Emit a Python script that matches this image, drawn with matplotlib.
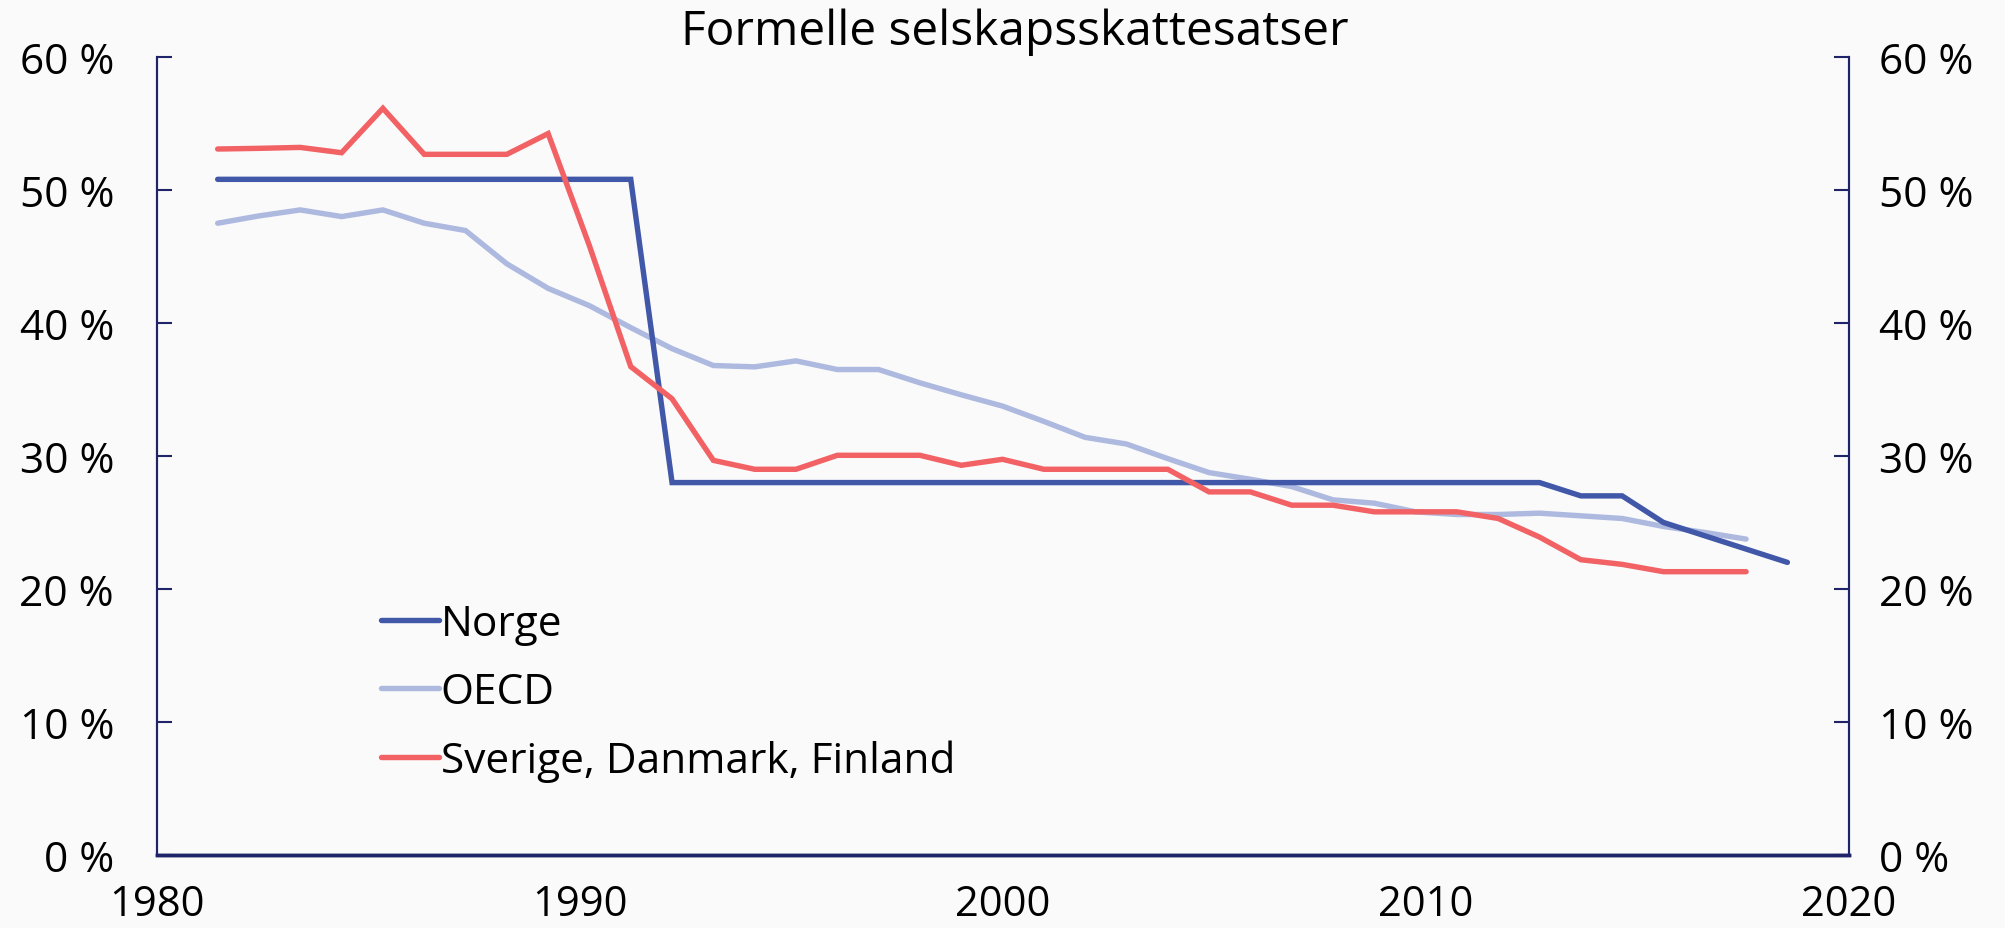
import matplotlib
matplotlib.use("Agg")
import matplotlib.pyplot as plt
from matplotlib.ticker import FixedLocator, FuncFormatter

plt.rcParams['font.family'] = ['Open Sans', 'DejaVu Sans']

title = "Formelle selskapsskattesatser"
labels = ["Norge", "OECD", "Sverige, Danmark, Finland"]
colors = ["#4157A8", "#AEB9E0", "#F26164"]

years_norge = list(range(1981, 2020))
norge = [50.8] * 11 + [28.0] * 22 + [27.0, 27.0, 25.0, 24.0, 23.0, 22.0]

years_oecd = list(range(1981, 2019))
oecd = [47.5, 48.05, 48.5, 48.0, 48.5, 47.5, 46.95, 44.45, 42.6, 41.3,
        39.65, 38.07, 36.8, 36.7, 37.15, 36.5, 36.5, 35.5, 34.6, 33.75,
        32.6, 31.4, 30.9, 29.8, 28.75, 28.25, 27.7, 26.7, 26.45, 25.8,
        25.6, 25.6, 25.7, 25.5, 25.3, 24.7, 24.25, 23.75]

years_nordic = list(range(1981, 2019))
nordic = [53.08, 53.13, 53.2, 52.8, 56.14, 52.68, 52.68, 52.68, 54.24, 45.8,
          36.72, 34.3, 29.67, 29.0, 29.0, 30.05, 30.05, 30.05, 29.3, 29.75,
          29.0, 29.0, 29.0, 29.0, 27.3, 27.3, 26.3, 26.3, 25.8, 25.8,
          25.8, 25.3, 23.9, 22.2, 21.85, 21.3, 21.3, 21.3]

x_tick_labels = ["1980", "1990", "2000", "2010", "2020"]
y_ticks = [0, 10, 20, 30, 40, 50, 60]

bg = "#FAFAFA"
axis_col = "#1F2468"

fig = plt.figure(figsize=(20.06, 9.29), dpi=100, facecolor=bg)
ax = fig.add_axes([0.0783, 0.0786, 0.9217 - 0.0783, 0.9376 - 0.0786])
ax.set_facecolor(bg)

lw = 3.9
ax.plot(years_norge, norge, color=colors[0], lw=lw, label=labels[0],
        solid_capstyle='round', solid_joinstyle='miter', zorder=3)
ax.plot(years_oecd, oecd, color=colors[1], lw=lw, label=labels[1],
        solid_capstyle='round', solid_joinstyle='miter', zorder=2)
ax.plot(years_nordic, nordic, color=colors[2], lw=lw, label=labels[2],
        solid_capstyle='round', solid_joinstyle='miter', zorder=4)

xmin, xmax = 1979.533, 2020.49
ax.set_xlim(xmin, xmax)
ax.set_ylim(0, 60)

xt = [xmin + i * (xmax - xmin) / 4 for i in range(5)]
ax.xaxis.set_major_locator(FixedLocator(xt))
ax.set_xticklabels(x_tick_labels)
ax.tick_params(axis='x', length=0, pad=20, labelsize=30)

fmt = FuncFormatter(lambda v, p: f"{int(v)} %")
ax.yaxis.set_major_locator(FixedLocator(y_ticks))
ax.yaxis.set_major_formatter(fmt)
ax.tick_params(axis='y', direction='in', length=11, width=1.5, color=axis_col,
               labelsize=30.5, pad=31)

ax2 = ax.twinx()
ax2.set_ylim(0, 60)
ax2.yaxis.set_major_locator(FixedLocator(y_ticks))
ax2.yaxis.set_major_formatter(fmt)
ax2.tick_params(axis='y', direction='in', length=11, width=1.5, color=axis_col,
                labelsize=30.5, pad=22)

for a in (ax, ax2):
    a.spines['top'].set_visible(False)
    a.spines['left'].set_color(axis_col)
    a.spines['right'].set_color(axis_col)
    a.spines['bottom'].set_color(axis_col)
    a.spines['left'].set_linewidth(1.5)
    a.spines['right'].set_linewidth(1.5)
    a.spines['bottom'].set_linewidth(2.5)

fig.text(0.506, 0.965, title, ha='center', va='center', fontsize=34.5)

leg = ax.legend(loc='upper left', bbox_to_anchor=(0.1226, 0.337), frameon=False,
                fontsize=30.5, handlelength=1.35, handletextpad=0.05,
                labelspacing=0.62, borderaxespad=0)

fig.savefig("out.png", dpi=100, facecolor=bg)
